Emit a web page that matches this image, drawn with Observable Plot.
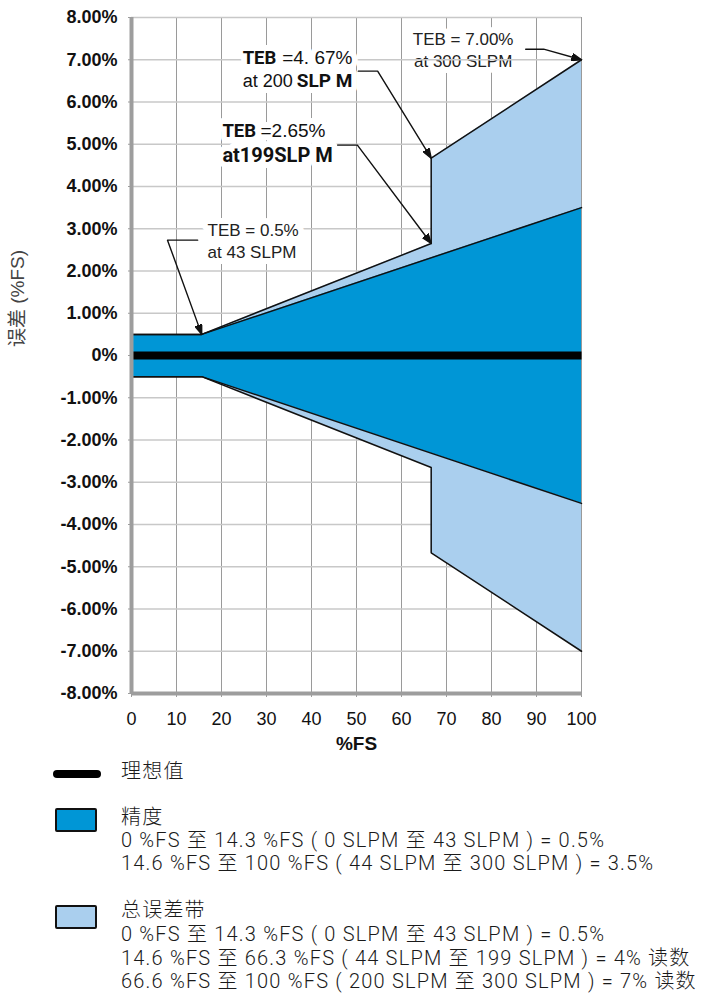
<!DOCTYPE html>
<html>
<head>
<meta charset="utf-8">
<script src="https://cdn.jsdelivr.net/npm/d3@7"></script>
<script src="https://cdn.jsdelivr.net/npm/@observablehq/plot@0.6"></script>
<style>
  body { margin: 0; background: #fff; }
  #page { position: relative; width: 711px; height: 997px; overflow: hidden; }
  #legend { position: absolute; left: 0; top: 757px; width: 711px; height: 240px;
    font-family: Roboto, "Liberation Sans", "Noto Sans CJK SC", sans-serif; font-weight: 300;
    font-size: 20px; letter-spacing: 1.2px; color: #1a1a1a; }
  #legend .sw-line { position: absolute; left: 53px; top: 13px; width: 48px; height: 8px; border-radius: 4px; background: #000; }
  #legend .sw-box { position: absolute; left: 55px; width: 42px; height: 24px; box-sizing: border-box;
    border: 2.5px solid #111; border-radius: 2px; }
  #legend .txt { position: absolute; left: 121px; white-space: nowrap; }
</style>
</head>
<body>
<div id="page">
  <div id="chart"></div>
  <div id="legend"></div>
</div>
<script>
// Axis ticks
const fsTicks = [0, 10, 20, 30, 40, 50, 60, 70, 80, 90, 100];
const errTicks = [-8, -7, -6, -5, -4, -3, -2, -1, 0, 1, 2, 3, 4, 5, 6, 7, 8];

// Total error band (TEB), %FS vs error %FS
const tebFS = [0, 15.6, 66.6, 66.6, 100];
const tebUpper = [0.5, 0.5, 2.65, 4.67, 7.0];
const tebLower = [-0.5, -0.5, -2.65, -4.67, -7.0];

// Accuracy band
const accFS = [0, 15.6, 100];
const accUpper = [0.5, 0.5, 3.5];
const accLower = [-0.5, -0.5, -3.5];

// Ideal value
const idealFS = [0, 100];
const idealErr = [0, 0];

// Callout leader lines (data coordinates, last point is the arrow tip)
const leaders = [
  [[14.7, 2.73], [8.0, 2.73], [15.6, 0.5]],
  [[45.8, 4.98], [50.2, 4.98], [66.6, 2.65]],
  [[50.4, 6.73], [54.7, 6.73], [66.6, 4.67]],
  [[87.6, 7.25], [91.6, 7.25], [100, 7.0]]
];

// Callout texts
const notePlain = [
  {x: 16.9, y: 2.73, text: "TEB = 0.5%\nat 43 SLPM"}
];
const noteTop = [
  {x: 73.7, y: 7.26, text: "TEB = 7.00%\nat 300 SLPM"}
];
const noteTEB = [
  {x: 24.7, y: 7.05, text: "TEB"},
  {x: 20.2, y: 5.31, text: "TEB"}
];
const noteBoldStart = [
  {x: 20.2, y: 4.74, text: "at199SLP M"}
];
const noteBoldEnd = [
  {x: 49.1, y: 6.49, text: "SLP M"}
];
const noteRegStart = [
  {x: 24.7, y: 6.49, text: "at 200"}
];
const noteRegEnd = [
  {x: 49.1, y: 7.05, text: "=4. 67%"},
  {x: 43.1, y: 5.31, text: "=2.65%"}
];

// Legend entries
const legendItems = [
  {kind: "line", title: "理想值", lines: []},
  {kind: "box", color: "#0096d6", title: "精度", lines: [
    "0 %FS 至 14.3 %FS ( 0 SLPM 至 43 SLPM ) = 0.5%",
    "14.6 %FS 至 100 %FS ( 44 SLPM 至 300 SLPM ) = 3.5%"
  ]},
  {kind: "box", color: "#aacfee", title: "总误差带", lines: [
    "0 %FS 至 14.3 %FS ( 0 SLPM 至 43 SLPM ) = 0.5%",
    "14.6 %FS 至 66.3 %FS ( 44 SLPM 至 199 SLPM ) = 4% 读数",
    "66.6 %FS 至 100 %FS ( 200 SLPM 至 300 SLPM ) = 7% 读数"
  ]}
];

const DARK = "#0096d6";
const LIGHT = "#aacfee";

const tebRows = tebFS.map((x, i) => ({x, hi: tebUpper[i], lo: tebLower[i]}));
const accRows = accFS.map((x, i) => ({x, hi: accUpper[i], lo: accLower[i]}));
const idealRows = idealFS.map((x, i) => ({x, y: idealErr[i]}));
const leaderRows = leaders.flatMap((pts, id) => pts.map(([x, y]) => ({id, x, y})));

// Filled triangular arrowhead
function solidArrow(color, context) {
  const doc = (context && context.document) || document;
  const ns = "http://www.w3.org/2000/svg";
  const m = doc.createElementNS(ns, "marker");
  m.setAttribute("viewBox", "-10 -4 10 8");
  m.setAttribute("markerWidth", 10);
  m.setAttribute("markerHeight", 8);
  m.setAttribute("markerUnits", "userSpaceOnUse");
  m.setAttribute("orient", "auto");
  m.setAttribute("refX", 0);
  m.setAttribute("refY", 0);
  const p = doc.createElementNS(ns, "path");
  p.setAttribute("d", "M-10,-3.6L0,0L-10,3.6Z");
  p.setAttribute("fill", color);
  m.appendChild(p);
  return m;
}

const sans = "Liberation Sans, Arial, Helvetica, sans-serif";
const boldFace = "Roboto, Liberation Sans, sans-serif";

// Callout text groups: white knock-out halos are drawn first, then the glyphs
const callouts = [
  [notePlain, {textAnchor: "start", lineHeight: 1.3, fontSize: 17, fill: "#222"}],
  [noteTEB, {textAnchor: "start", fontSize: 18.5, fontWeight: "bold", fontFamily: boldFace, fill: "#111"}],
  [noteBoldStart, {textAnchor: "start", fontSize: 20, fontWeight: "bold", fontFamily: boldFace, fill: "#111"}],
  [noteBoldEnd, {textAnchor: "end", fontSize: 19, fontWeight: "bold", fontFamily: boldFace, fill: "#111"}],
  [noteRegStart, {textAnchor: "start", fontSize: 18, fill: "#111"}],
  [noteRegEnd, {textAnchor: "end", fontSize: 19, fill: "#111"}]
];
const haloMarks = callouts.map(([data, o]) =>
  Plot.text(data, {x: "x", y: "y", text: "text", lineAnchor: "middle", ...o, fill: "#fff", stroke: "#fff", strokeWidth: 12}));
const textMarks = callouts.map(([data, o]) =>
  Plot.text(data, {x: "x", y: "y", text: "text", lineAnchor: "middle", ...o}));

function build(marker) {
  return Plot.plot({
    width: 711,
    height: 757,
    marginTop: 17,
    marginLeft: 131,
    marginRight: 130,
    marginBottom: 64,
    style: {fontFamily: sans, background: "#fff", overflow: "visible"},
    x: {domain: [0, 100]},
    y: {domain: [-8, 8]},
    marks: [
      Plot.gridX(fsTicks, {stroke: "#9a9a9a", strokeOpacity: 1, strokeWidth: 1}),
      Plot.text(noteTop, {x: "x", y: "y", text: "text", textAnchor: "middle", lineAnchor: "middle",
        lineHeight: 1.3, fontSize: 17, fill: "#222", stroke: "#fff", strokeWidth: 12}),
      Plot.gridY(errTicks, {stroke: "#c8c8c8", strokeOpacity: 1, strokeWidth: 1.7}),
      Plot.areaY(tebRows, {x: "x", y1: "lo", y2: "hi", fill: LIGHT, curve: "linear"}),
      Plot.areaY(accRows, {x: "x", y1: "lo", y2: "hi", fill: DARK, curve: "linear"}),
      Plot.line(tebRows, {x: "x", y: "hi", stroke: "#111", strokeWidth: 1.5}),
      Plot.line(tebRows, {x: "x", y: "lo", stroke: "#111", strokeWidth: 1.5}),
      Plot.line(accRows, {x: "x", y: "hi", stroke: "#111", strokeWidth: 1.5}),
      Plot.line(accRows, {x: "x", y: "lo", stroke: "#111", strokeWidth: 1.5}),
      Plot.line(idealRows, {x: "x", y: "y", stroke: "#000", strokeWidth: 8, strokeLinecap: "butt"}),
      Plot.ruleX([0], {stroke: "#9d9d9d", strokeWidth: 4}),
      Plot.ruleY([-8], {stroke: "#9d9d9d", strokeWidth: 4}),
      Plot.axisY(errTicks, {
        tickSize: 3, tickPadding: 11, stroke: "#9d9d9d", fill: "#111",
        fontSize: 18, fontWeight: "bold", label: null,
        tickFormat: d => d === 0 ? "0%" : d.toFixed(2) + "%"
      }),
      Plot.axisX(fsTicks, {
        tickSize: 4, tickPadding: 15, stroke: "#9d9d9d", fill: "#111",
        fontSize: 18, label: null
      }),
      Plot.text(["%FS"], {frameAnchor: "bottom", dy: 56, fontSize: 19, fontWeight: "bold", fill: "#111"}),
      Plot.text(["误差 (%FS)"], {frameAnchor: "left", textAnchor: "middle", dx: -114, dy: -57, rotate: -90,
        fontSize: 19, fill: "#444", fontFamily: "Liberation Sans, 'Noto Sans CJK SC', sans-serif"}),
      ...haloMarks,
      ...textMarks,
      Plot.line(leaderRows, {x: "x", y: "y", z: "id", stroke: "#111", strokeWidth: 1.4,
        curve: "linear", markerEnd: marker})
    ]
  });
}

let chart;
try { chart = build(solidArrow); } catch (e) { chart = build("arrow"); }
document.getElementById("chart").appendChild(chart);

// Legend below the plot
const legend = d3.select("#legend");
legend.append("div").attr("class", "sw-line");
legend.append("div").attr("class", "txt").style("top", "2px").style("line-height", "24px")
  .text(legendItems[0].title);
const blocks = [
  {item: legendItems[1], boxTop: 51, textTop: 48, lh: 23},
  {item: legendItems[2], boxTop: 148, textTop: 142, lh: 23.7}
];
for (const b of blocks) {
  legend.append("div").attr("class", "sw-box").style("top", b.boxTop + "px").style("background", b.item.color);
  const t = legend.append("div").attr("class", "txt").style("top", (b.textTop + 12 - b.lh / 2) + "px")
    .style("line-height", b.lh + "px");
  t.append("div").text(b.item.title);
  for (const l of b.item.lines) t.append("div").text(l);
}
</script>
</body>
</html>
